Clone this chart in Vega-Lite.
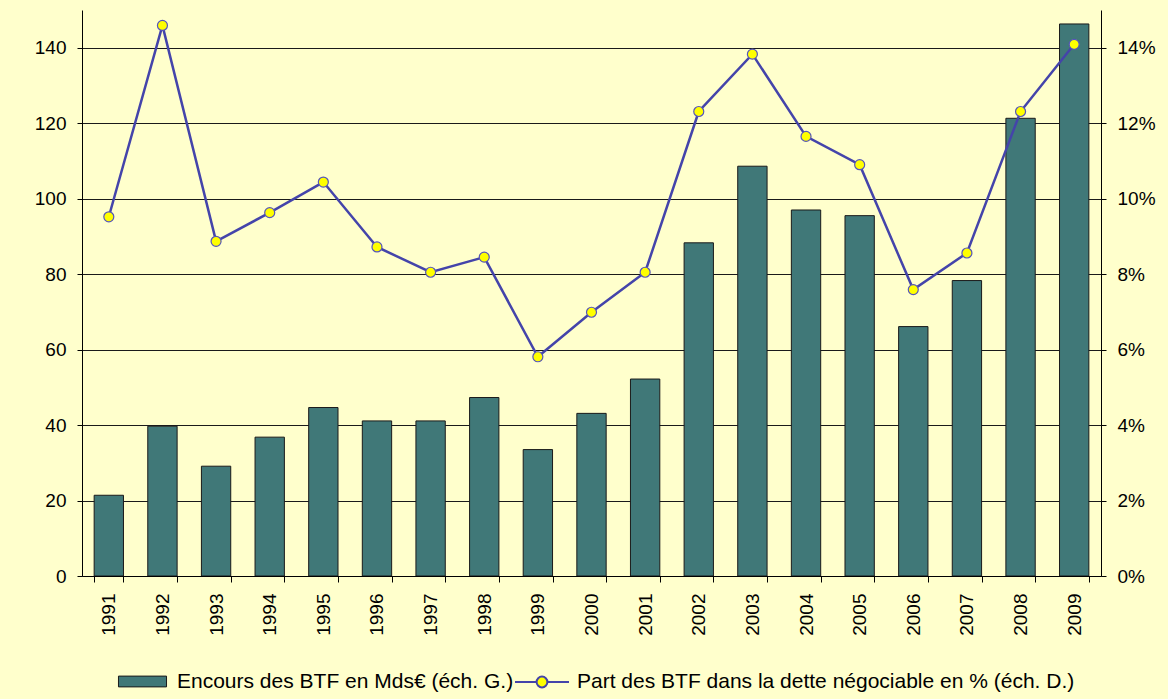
{
  "$schema": "https://vega.github.io/schema/vega-lite/v6.json",
  "width": 1019,
  "height": 566,
  "autosize": {"type": "none"},
  "padding": {"left": 82, "top": 10, "right": 67, "bottom": 123},
  "background": "#FFFFCC",
  "config": {
    "view": {"stroke": null},
    "font": "Liberation Sans",
    "axis": {
      "labelFont": "Liberation Sans",
      "labelFontSize": 19,
      "labelColor": "#000000",
      "domainColor": "#000000",
      "domainWidth": 1,
      "tickColor": "#000000",
      "tickWidth": 1
    },
    "legend": {
      "labelFont": "Liberation Sans",
      "labelFontSize": 21,
      "labelColor": "#000000",
      "labelLimit": 1000,
      "padding": 0,
      "columnPadding": 0
    }
  },
  "data": {
    "values": [
      {"year": "1991", "encours": 21.4, "part": 9.52},
      {"year": "1992", "encours": 39.7, "part": 14.59},
      {"year": "1993", "encours": 29.1, "part": 8.87},
      {"year": "1994", "encours": 36.8, "part": 9.63},
      {"year": "1995", "encours": 44.65, "part": 10.44},
      {"year": "1996", "encours": 41.1, "part": 8.72},
      {"year": "1997", "encours": 41.1, "part": 8.05},
      {"year": "1998", "encours": 47.3, "part": 8.45},
      {"year": "1999", "encours": 33.5, "part": 5.81},
      {"year": "2000", "encours": 43.1, "part": 6.99},
      {"year": "2001", "encours": 52.2, "part": 8.05},
      {"year": "2002", "encours": 88.3, "part": 12.31},
      {"year": "2003", "encours": 108.6, "part": 13.83},
      {"year": "2004", "encours": 97.0, "part": 11.65},
      {"year": "2005", "encours": 95.5, "part": 10.9},
      {"year": "2006", "encours": 66.1, "part": 7.59},
      {"year": "2007", "encours": 78.3, "part": 8.56},
      {"year": "2008", "encours": 121.3, "part": 12.31},
      {"year": "2009", "encours": 146.3, "part": 14.09}
    ]
  },
  "layer": [
    {
      "mark": {"type": "bar", "stroke": "#1a1a1a", "strokeWidth": 1},
      "encoding": {
        "x": {
          "field": "year",
          "type": "ordinal",
          "scale": {"paddingInner": 0.453, "paddingOuter": 0.2265},
          "axis": {
            "title": null,
            "labelAngle": -90,
            "tickBand": "extent",
            "tickSize": 6,
            "labelPadding": 11,
            "grid": false,
            "zindex": 1
          }
        },
        "y": {
          "field": "encours",
          "type": "quantitative",
          "scale": {"domain": [0, 150], "nice": false},
          "axis": {
            "orient": "left",
            "title": null,
            "values": [0, 20, 40, 60, 80, 100, 120, 140],
            "grid": true,
            "gridColor": "#1a1a1a",
            "gridWidth": 1,
            "tickSize": 5,
            "labelPadding": 11
          }
        },
        "fill": {
          "datum": "Encours des BTF en Mds€ (éch. G.)",
          "scale": {"range": ["#407878"]},
          "legend": {
            "orient": "none",
            "legendX": 33,
            "legendY": 644,
            "direction": "horizontal",
            "title": null,
            "symbolType": "M-0.89,-0.2H0.89V0.2H-0.89Z",
            "symbolSize": 2916,
            "symbolStrokeColor": "#1a1a1a",
            "symbolStrokeWidth": 1,
            "symbolOpacity": 1,
            "labelOffset": 7
          }
        }
      }
    },
    {
      "layer": [
        {
          "mark": {"type": "line", "strokeWidth": 2.5},
          "encoding": {
            "x": {"field": "year", "type": "ordinal"},
            "y": {
              "field": "part",
              "type": "quantitative",
              "scale": {"domain": [0, 15], "nice": false},
              "axis": {
                "orient": "right",
                "title": null,
                "values": [0, 2, 4, 6, 8, 10, 12, 14],
                "labelExpr": "datum.value + '%'",
                "grid": false,
                "tickSize": 5,
                "labelPadding": 11
              }
            },
            "stroke": {
              "datum": "Part des BTF dans la dette négociable en % (éch. D.)",
              "scale": {"range": ["#4444AA"]},
              "legend": {
                "orient": "none",
                "legendX": 432,
                "legendY": 644,
                "direction": "horizontal",
                "title": null,
                "symbolType": "M-1,0H-0.2M0.2,0H1M0.2,0A0.2,0.2 0 1 1 -0.2,0A0.2,0.2 0 1 1 0.2,0Z",
                "symbolSize": 2916,
                "symbolFillColor": "#FFFF00",
                "symbolStrokeWidth": 2,
                "symbolOpacity": 1,
                "labelOffset": 7
              }
            }
          }
        },
        {
          "mark": {"type": "point", "filled": true, "fill": "#FFFF00", "stroke": "#5555BB", "strokeWidth": 1.2, "size": 100, "opacity": 1},
          "encoding": {
            "x": {"field": "year", "type": "ordinal"},
            "y": {"field": "part", "type": "quantitative"}
          }
        }
      ]
    }
  ],
  "resolve": {"scale": {"y": "independent"}}
}
